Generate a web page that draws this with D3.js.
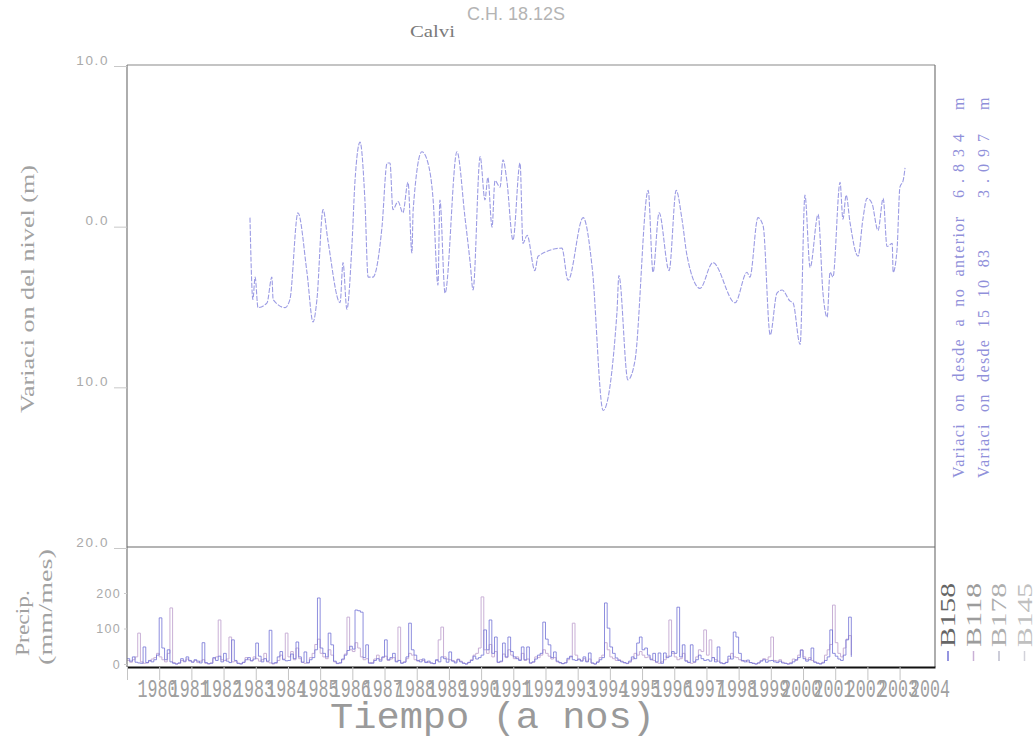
<!DOCTYPE html>
<html>
<head>
<meta charset="utf-8">
<script src="https://cdn.jsdelivr.net/npm/d3@7/dist/d3.min.js"></script>
<style>
  html, body { margin: 0; padding: 0; background: #fff; }
  svg { display: block; }
</style>
</head>
<body>
<svg id="chart" width="1036" height="750"></svg>
<script>
// Piezometric level of well 18.12S (Calvi), variation in metres
const levelDates = [
  1983.82, 1983.91, 1983.98, 1984.07, 1984.35, 1984.50, 1984.54, 1984.91, 1985.06, 1985.31,
  1985.59, 1985.78, 1985.90, 1986.09, 1986.24, 1986.62, 1986.71, 1986.83, 1986.99, 1987.08,
  1987.24, 1987.39, 1987.49, 1987.64, 1987.92, 1988.08, 1988.17, 1988.26, 1988.42, 1988.57,
  1988.73, 1988.85, 1988.89, 1989.16, 1989.35, 1989.51, 1989.66, 1989.72, 1989.88, 1990.25,
  1990.50, 1990.66, 1990.75, 1990.97, 1991.12, 1991.21, 1991.34, 1991.43, 1991.59, 1991.68,
  1991.80, 1991.99, 1992.21, 1992.30, 1992.43, 1992.67, 1992.77, 1993.51, 1993.70, 1994.17,
  1994.45, 1994.79, 1995.22, 1995.28, 1995.56, 1995.78, 1996.19, 1996.34, 1996.53, 1996.84,
  1997.06, 1997.24, 1997.40, 1997.80, 1998.20, 1998.89, 1999.26, 1999.35, 1999.60, 1999.76,
  1999.98, 2000.19, 2000.35, 2000.60, 2000.69, 2000.91, 2001.06, 2001.22, 2001.47, 2001.62,
  2001.75, 2001.84, 2001.93, 2002.15, 2002.24, 2002.34, 2002.46, 2002.71, 2002.86, 2002.99,
  2003.14, 2003.33, 2003.49, 2003.61, 2003.77, 2003.80, 2003.92, 2004.01, 2004.11, 2004.17
];
const levelValues = [
   0.5, -4.6, -3.2, -5.1, -4.8, -3.2, -4.6, -5.1, -4.6,  0.8,
  -2.9, -6.0, -4.6,  1.0, -0.9, -4.8, -2.3, -5.2, -1.1,  2.7,
   5.2,  1.6, -3.2, -3.2, -0.1,  3.9,  3.9,  1.0,  1.5,  0.8,
   2.7, -1.7,  1.0,  4.6,  3.9,  1.6, -3.7,  1.6, -4.2,  4.6,
   0.5, -2.3, -4.0,  4.3,  1.6,  3.0, -0.1,  2.8,  2.4,  4.1,
   2.8, -0.9,  3.9, -1.1, -0.6, -2.8, -1.9, -1.4, -3.4,  0.5,
  -2.6,-11.5, -5.4, -3.1, -9.6, -8.4,  2.2, -2.9,  0.8, -2.8,
   2.2,  0.4, -1.9, -3.9, -2.3, -4.8, -2.9, -3.2,  0.5,  0.0,
  -6.8, -4.2, -4.0, -4.7, -4.8, -7.4,  1.9, -2.6,  0.7, -4.2,
  -5.7, -2.9, -3.2,  2.7,  0.4,  1.9,  0.2, -1.9,  0.4,  1.7,
   1.4, -0.3,  1.7, -1.3, -1.1, -2.9, -1.5,  2.4,  2.8,  3.6
];

// Monthly precipitation (mm/mes), January 1980 onwards, one row per year
const precipStart = 1980;
const precipB158 = [
   15,   8,  20,   5,   3,   2,  48,   4,  10,   6,  12,  25,
  130,  45,  12,  40,   6,   2,   0,   3,  15,   8,  20,  10,
    5,  12,   8,   3,  60,   4,   1,   2,  18,  10,  22,   6,
   30,   8,   4,  68,  10,   2,   0,   5,  12,  18,   9,  14,
   59,  22,   6,  15,   8,  95,   2,   4,  20,  35,  12,   9,
   10,  28,  15,  62,  20,   5,  34,   3,  12,  18,  40, 186,
   45,  30,  20,  87,  54,   8,   2,   3,  14,  25,  38,  50,
   42, 152, 150, 146,  18,  54,   3,   2,  10,  15,   8,  20,
   68,  12,  18,  30,   6,  10,   2,   5,  20, 115,  40,  25,
   10,   6,  14,   4,   8,   3,   1,  12,   6,  20,  15,   5,
   34,   8,   3,  12,   6,   2,   0,   4,  10,  22,  14,  18,
   25,  96,  40, 124,  30,  76,   5,   8,  59,  20,  76,  35,
   20,  15,  10,  48,  12,  48,   3,   6,  14,  25,  30, 118,
   70,  54,  18,  34,   8,   4,   1,   3,  16,  22,  12,  10,
   14,   8,  20,   6,  31,   3,   0,   5,  12,  18, 172, 101,
   48,  30,  17,  10,   6,   4,   2,   8,  20,  15,  59,  76,
   40,  45,  25,  12,  30,   6,  31,   2,  31,  18,  22,  35,
   30, 160,  20,  54,   8,   4,  54,   6,  12,  25,  15,  10,
   12,   8,  18,   6,  48,   3,   1,   4,  22,  14,  90,  76,
   30,  10,   6,  11,   4,   2,   0,   3,   8,  12,   5,   9,
   10,   6,   4,   8,   3,   2,   0,   1,   6,  12,  18,  39,
   15,   8,  12,  45,   5,   2,   0,   3,  10,  20,  96,  30,
   22,  14,  10,  25,  68, 132,  20
];
const precipB118 = [
   10,   5,  12,  20,  87,   6,   2,   3,   8,  14,  18,  30,
   20,  12,   6,  30, 158,   4,   0,   2,  10,   6,  14,   8,
    6,  10,   4,   8,  12,   2,   0,   3,  15,  20, 124,  12,
   10,  14,  76,   6,   8,   2,   1,   4,  18,  12,   9,  20,
   15,   8,  12,  30,   6,   3,   0,   2,  10,  25,  14,  87,
   20,  35,  12,  45,  15,   5,   2,   4,  18,  30,  55,  70,
   30,  20,  15,  40,  25,   6,   1,   3,  12,  28, 132,  40,
   35,  60,  45,  20,  12,  15,   2,   4,  14,  25,  12,  18,
   22,  10,  14,  18,   8, 104,   3,   6,  15,  30,  25,  12,
    8,  12,  10,   6,   4,   2,   1,  10,  68, 104,  20,  14,
   12,  10,   6,  14,   8,   3,   0,   5,  12,  25,  30,  45,
  189,  40,  30,  55,  20,  35,   4,   6,  28,  18,  40,  25,
   15,  20,  12,  30,  10,  14,   2,   5,  20,  18,  25,  40,
   30,  22,  14,  18,   6,   3,   1,   4,  12,  20, 115,  25,
   12,  10,  15,   8,  14,   2,   0,   6,  18,  25,  60,  40,
   20,  15,  10,  12,   8,   3,   1,   5,  14,  30,  25,  35,
   25,  18,  20,  14,  10,   4,   2,   6,  12,  22, 124,  30,
   20,  12,  15,  30,  10,   5,   2,   4,  20,  40,  35,  96,
   25,  68,  18,  12,   8,   3,   1,   5,  14,  30,  20,  18,
   12,   8,  10,   6,   4,   2,   0,   3,  10,  15,  12,  20,
   76,  10,   8,  12,   5,   2,   0,   4,  14,  10,  25,  40,
   20,  12,  18,  10,   6,   3,   1,   5,  25,  40,  55, 166,
   60,  30,  20,  45,  70,  80,  25
];

const yearTicks = d3.range(1980, 2005);
const levelTicks = [10, 0, -10, -20];
const precipTicks = [0, 100, 200];
const stationNames = ["B158", "B118", "B178", "B145"];
const stationColors = ["#7272d6", "#c9b0d6", "#bcbccc", "#d2d2da"];
const stationTextColors = ["#666", "#9c9c9c", "#aeaeae", "#c0c0c0"];
const annualLabel = ["Variaci on desde a no anterior", "6.834", "m"];
const sinceLabel = ["Variaci on desde 15 10 83", "3.097", "m"];

const svg = d3.select("#chart");
const plotL = 127, plotR = 935, plotT = 65, plotMid = 547, plotB = 667;

const x = d3.scaleLinear().domain([1980, 2005.1]).range([plotL, plotR]);
const yLevel = d3.scaleLinear().domain([10, -20]).range([plotT, plotMid]);
const yPrec = d3.scaleLinear().domain([0, 200]).range([664, 593]);

const serif = "'Liberation Serif', 'DejaVu Serif', serif";
const mono = "'Liberation Mono', 'DejaVu Sans Mono', monospace";
const sans = "'Liberation Sans', 'DejaVu Sans', sans-serif";

// titles
svg.append("text").attr("x", 467).attr("y", 20)
  .attr("font-family", sans).attr("font-size", 18).attr("fill", "#b4b4b4")
  .attr("textLength", 98).attr("lengthAdjust", "spacingAndGlyphs").text("C.H. 18.12S");
svg.append("text").attr("x", 410).attr("y", 37)
  .attr("font-family", serif).attr("font-size", 16).attr("fill", "#7a7a7a")
  .attr("textLength", 45).attr("lengthAdjust", "spacingAndGlyphs").text("Calvi");

// precipitation step lines
function monthly(vals) {
  return vals.map((v, i) => ({ t: precipStart + i / 12, v }));
}
const stepLine = d3.line().x(d => x(d.t)).y(d => yPrec(d.v)).curve(d3.curveStepAfter);
svg.append("path").datum(monthly(precipB118)).attr("d", stepLine)
  .attr("fill", "none").attr("stroke", stationColors[1]).attr("stroke-width", 1);
svg.append("path").datum(monthly(precipB158)).attr("d", stepLine)
  .attr("fill", "none").attr("stroke", stationColors[0]).attr("stroke-width", 1).attr("opacity", 0.8);

// level line
const levelData = levelDates.map((t, i) => ({ t, v: levelValues[i] }));
const levelLine = d3.line().x(d => x(d.t)).y(d => yLevel(d.v)).curve(d3.curveMonotoneX);
svg.append("path").datum(levelData).attr("d", levelLine)
  .attr("fill", "none").attr("stroke", "#9c9ce4").attr("stroke-width", 1.1)
  .attr("stroke-dasharray", "5,1.5");

// frame
svg.append("line").attr("x1", plotL).attr("x2", plotR).attr("y1", plotT).attr("y2", plotT)
  .attr("stroke", "#8a8a8a").attr("stroke-width", 1.2);
svg.append("line").attr("x1", plotL).attr("x2", plotL).attr("y1", plotT).attr("y2", plotB)
  .attr("stroke", "#777").attr("stroke-width", 1.2);
svg.append("line").attr("x1", plotR).attr("x2", plotR).attr("y1", plotT).attr("y2", plotB)
  .attr("stroke", "#777").attr("stroke-width", 1.2);
svg.append("line").attr("x1", plotL).attr("x2", plotR).attr("y1", plotMid).attr("y2", plotMid)
  .attr("stroke", "#6a6a6a").attr("stroke-width", 1.1);

// level axis
const levelAxis = d3.axisLeft(yLevel).tickValues(levelTicks).tickSize(13).tickPadding(5)
  .tickFormat(d => Math.abs(d).toFixed(1));
const gl = svg.append("g").attr("transform", `translate(${plotL},0)`).call(levelAxis);
gl.select(".domain").remove();
gl.selectAll(".tick line").attr("stroke", "#c8c8c8").attr("y1", 1).attr("y2", 1);
gl.selectAll(".tick text").style("font-family", sans).style("font-size", "13.5px")
  .attr("fill", "#aaa").attr("letter-spacing", 1.6).attr("dy", "-0.05em");

// precipitation axis
const precAxis = d3.axisLeft(yPrec).tickValues(precipTicks).tickSize(3).tickPadding(3);
const gp = svg.append("g").attr("transform", `translate(${plotL},0)`).call(precAxis);
gp.select(".domain").remove();
gp.selectAll(".tick line").attr("stroke", "#ccc");
gp.selectAll(".tick text").style("font-family", sans).style("font-size", "12.5px")
  .attr("fill", "#aaa").attr("letter-spacing", 1.3);

// time axis
const timeAxis = d3.axisBottom(x).tickValues(yearTicks).tickSize(13).tickSizeOuter(0)
  .tickFormat(d3.format("d"));
const gt = svg.append("g").attr("transform", `translate(0,${plotB})`).call(timeAxis);
gt.select(".domain").attr("stroke", "#111").attr("stroke-width", 2.2);
gt.selectAll(".tick line").attr("stroke", "#c4c4c4");
gt.selectAll(".tick text").style("font-family", mono).style("font-size", "26px")
  .attr("fill", "#a0a0a0").attr("text-anchor", "start")
  .attr("x", 10).attr("y", 30).attr("dy", null)
  .attr("textLength", 40).attr("lengthAdjust", "spacingAndGlyphs");

svg.append("text").attr("x", 330).attr("y", 728)
  .attr("font-family", mono).attr("font-size", 36).attr("fill", "#9a9a9a")
  .attr("textLength", 325).attr("lengthAdjust", "spacingAndGlyphs")
  .text("Tiempo (a nos)");

// left titles
svg.append("text").attr("transform", "translate(34,413) rotate(-90)")
  .attr("font-family", serif).attr("font-size", 19).attr("fill", "#a2a2a2")
  .attr("textLength", 248).attr("lengthAdjust", "spacingAndGlyphs")
  .text("Variaci on del nivel (m)");
svg.append("text").attr("transform", "translate(29,656) rotate(-90)")
  .attr("font-family", serif).attr("font-size", 19).attr("fill", "#a2a2a2")
  .attr("textLength", 66).attr("lengthAdjust", "spacingAndGlyphs")
  .text("Precip.");
svg.append("text").attr("transform", "translate(52,665) rotate(-90)")
  .attr("font-family", serif).attr("font-size", 19).attr("fill", "#a2a2a2")
  .attr("textLength", 116).attr("lengthAdjust", "spacingAndGlyphs")
  .text("(mm/mes)");

// right side summary labels: caption, value and unit
[[annualLabel, 964, 261], [sinceLabel, 989, 228]].forEach(([lab, cx, len]) => {
  svg.append("text").attr("transform", `translate(${cx},478) rotate(-90)`)
    .attr("font-family", serif).attr("font-size", 16).attr("fill", "#9090da")
    .attr("word-spacing", 6)
    .attr("textLength", len).attr("lengthAdjust", "spacing")
    .text(lab[0]);
  svg.append("text").attr("transform", `translate(${cx},198) rotate(-90)`)
    .attr("font-family", serif).attr("font-size", 16).attr("fill", "#9090da")
    .attr("textLength", 64).attr("lengthAdjust", "spacing")
    .text(lab[1]);
  svg.append("text").attr("transform", `translate(${cx},110) rotate(-90)`)
    .attr("font-family", serif).attr("font-size", 16).attr("fill", "#9090da")
    .text(lab[2]);
});

// station legend
stationNames.forEach((name, i) => {
  const cx = 955 + i * 25.5;
  svg.append("line").attr("x1", cx - 7).attr("x2", cx - 7).attr("y1", 651).attr("y2", 661)
    .attr("stroke", stationColors[i]).attr("stroke-width", 1.5);
  svg.append("text").attr("transform", `translate(${cx},647) rotate(-90)`)
    .attr("font-family", serif).attr("font-size", 22).attr("fill", stationTextColors[i])
    .attr("textLength", 64).attr("lengthAdjust", "spacingAndGlyphs")
    .text(name);
});
</script>
</body>
</html>
